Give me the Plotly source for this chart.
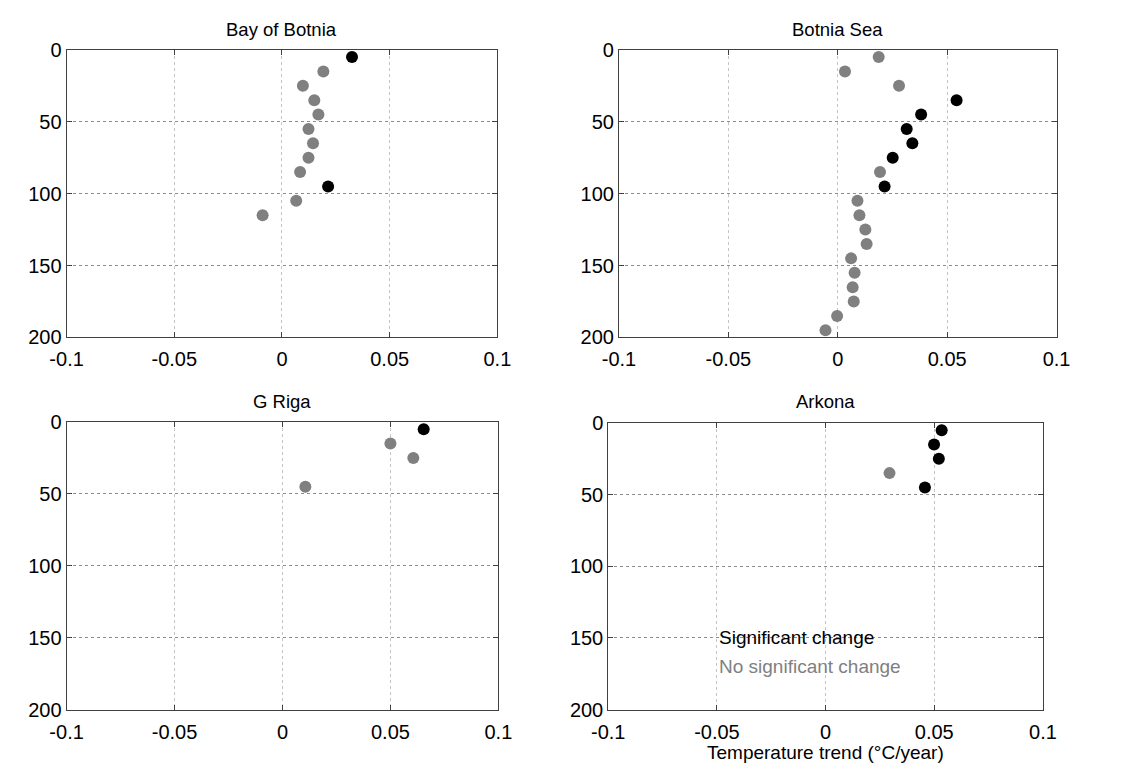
import plotly.graph_objects as go

# ---------------- data ----------------
panel_titles = ["Bay of Botnia", "Botnia Sea", "G Riga", "Arkona"]

botnia_bay_depth = [5, 15, 25, 35, 45, 55, 65, 75, 85, 95, 105, 115]
botnia_bay_trend = [0.0325, 0.0192, 0.0097, 0.0150, 0.0169, 0.0123, 0.0144, 0.0123, 0.0084, 0.0214, 0.0066, -0.0090]
botnia_bay_sig = [1, 0, 0, 0, 0, 0, 0, 0, 0, 1, 0, 0]

botnia_sea_depth = [5, 15, 25, 35, 45, 55, 65, 75, 85, 95, 105, 115, 125, 135, 145, 155, 165, 175, 185, 195]
botnia_sea_trend = [0.0187, 0.0033, 0.0280, 0.0543, 0.0381, 0.0315, 0.0341, 0.0251, 0.0193, 0.0214,
                    0.0090, 0.0099, 0.0126, 0.0132, 0.0061, 0.0077, 0.0068, 0.0073, -0.0003, -0.0056]
botnia_sea_sig = [0, 0, 0, 1, 1, 1, 1, 1, 0, 1, 0, 0, 0, 0, 0, 0, 0, 0, 0, 0]

riga_depth = [5, 15, 25, 45]
riga_trend = [0.0654, 0.0500, 0.0606, 0.0106]
riga_sig = [1, 0, 0, 0]

arkona_depth = [5, 15, 25, 35, 45]
arkona_trend = [0.0534, 0.0499, 0.0521, 0.0294, 0.0457]
arkona_sig = [1, 1, 1, 0, 1]

x_ticks = [-0.1, -0.05, 0, 0.05, 0.1]
x_ticklabels = ["-0.1", "-0.05", "0", "0.05", "0.1"]
y_ticks = [0, 50, 100, 150, 200]
y_ticklabels = ["0", "50", "100", "150", "200"]

legend_texts = ["Significant change", "No significant change"]
x_label = "Temperature trend (°C/year)"

# ---------------- layout geometry (pixels) ----------------
W, H = 1126, 775
FONT = "Liberation Sans, Arial, sans-serif"
SIG_COLOR = "#000000"
NS_COLOR = "#808080"
AXIS_COLOR = "#404040"

panels = [
    (botnia_bay_trend, botnia_bay_depth, botnia_bay_sig),
    (botnia_sea_trend, botnia_sea_depth, botnia_sea_sig),
    (riga_trend, riga_depth, riga_sig),
    (arkona_trend, arkona_depth, arkona_sig),
]
# (left, right, top, bottom) in pixels
boxes = [
    (51, 494, 40, 336),
    (619, 1069, 40, 336),
    (51, 495, 423, 719),
    (608, 1055, 424, 719),
]
title_y_px = [19, 19, 402, 402]

fig = go.Figure()
for i, ((xs, ys, sig), (l, r, t, b)) in enumerate(zip(panels, boxes)):
    n = "" if i == 0 else str(i + 1)
    xa, ya = "x" + n, "y" + n
    for flag, col in ((0, NS_COLOR), (1, SIG_COLOR)):
        px = [x for x, s in zip(xs, sig) if s == flag]
        py = [y for y, s in zip(ys, sig) if s == flag]
        fig.add_trace(go.Scatter(x=px, y=py, mode="markers", xaxis=xa, yaxis=ya,
                                 marker=dict(size=12, color=col, line=dict(width=0)),
                                 showlegend=False, hoverinfo="skip"))
    fig.layout["xaxis" + n] = dict(
        domain=[l / W, r / W], anchor=ya, range=[-0.1, 0.1],
        tickvals=x_ticks, ticktext=x_ticklabels,
        showgrid=True, gridcolor="#c4c4c4", griddash="dot", gridwidth=1,
        zeroline=False, showline=True, linecolor=AXIS_COLOR, linewidth=1, mirror="ticks",
        ticks="inside", ticklen=5, tickcolor=AXIS_COLOR, ticklabelstandoff=4,
        tickfont=dict(family=FONT, size=20, color="#000"),
    )
    fig.layout["yaxis" + n] = dict(
        domain=[1 - b / H, 1 - t / H], anchor=xa, range=[200, 0],
        tickvals=y_ticks, ticktext=y_ticklabels,
        showgrid=True, gridcolor="#8c8c8c", griddash="dot", gridwidth=1,
        zeroline=False, showline=True, linecolor=AXIS_COLOR, linewidth=1, mirror="ticks",
        ticks="inside", ticklen=5, tickcolor=AXIS_COLOR,
        tickfont=dict(family=FONT, size=20, color="#000"),
    )
    fig.add_annotation(text=panel_titles[i], x=(l + r) / 2 / W, y=1 - title_y_px[i] / H,
                       xref="paper", yref="paper", showarrow=False,
                       xanchor="center", yanchor="middle",
                       font=dict(family=FONT, size=18.5, color="#000"))

# legend texts in Arkona panel
fig.add_annotation(text=legend_texts[0], x=-0.05, y=150, xref="x4", yref="y4",
                   showarrow=False, xanchor="left", yanchor="middle",
                   font=dict(family=FONT, size=19, color=SIG_COLOR))
fig.add_annotation(text=legend_texts[1], x=-0.05, y=170, xref="x4", yref="y4",
                   showarrow=False, xanchor="left", yanchor="middle",
                   font=dict(family=FONT, size=19, color=NS_COLOR))
# x axis label
fig.add_annotation(text=x_label, x=0, y=1 - 763 / H, xref="x4", yref="paper",
                   showarrow=False, xanchor="center", yanchor="middle",
                   font=dict(family=FONT, size=19, color="#000"))

fig.update_layout(width=W, height=H, margin=dict(l=0, r=0, t=0, b=0),
                  paper_bgcolor="white", plot_bgcolor="white", showlegend=False)

fig.write_html("out.html")
